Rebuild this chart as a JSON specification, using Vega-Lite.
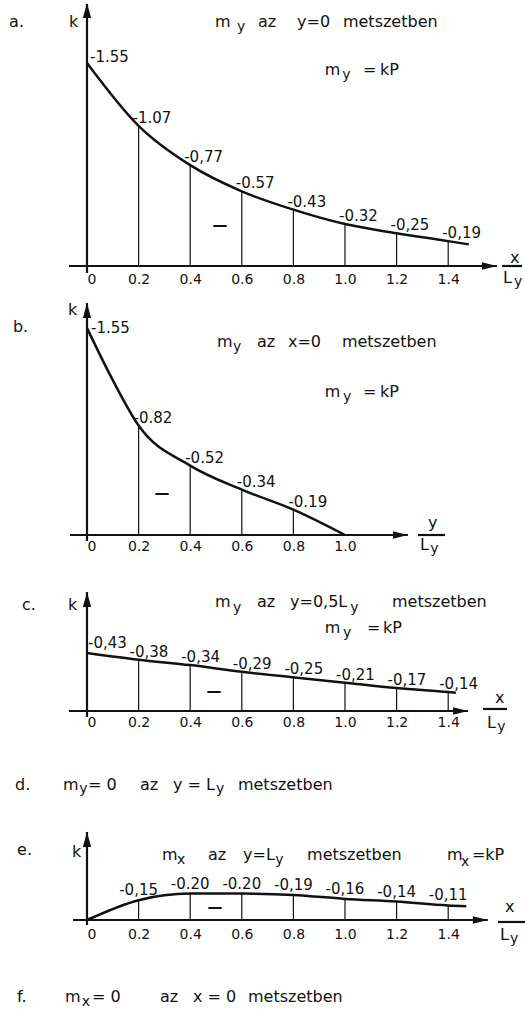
{
  "$schema": "https://vega.github.io/schema/vega-lite/v6.json",
  "padding": 0,
  "spacing": 0,
  "bounds": "flush",
  "background": "white",
  "config": {
    "view": {"stroke": null},
    "font": "DejaVu Sans",
    "text": {"font": "DejaVu Sans", "color": "#111111"},
    "axis": {"labelFont": "DejaVu Sans", "labelColor": "#111111"}
  },
  "datasets": {
    "curveA": [
      {"x": 0, "k": -1.55, "lab": "-1.55"},
      {"x": 0.2, "k": -1.07, "lab": "-1.07"},
      {"x": 0.4, "k": -0.77, "lab": "-0,77"},
      {"x": 0.6, "k": -0.57, "lab": "-0.57"},
      {"x": 0.8, "k": -0.43, "lab": "-0.43"},
      {"x": 1.0, "k": -0.32, "lab": "-0.32"},
      {"x": 1.2, "k": -0.25, "lab": "-0,25"},
      {"x": 1.4, "k": -0.19, "lab": "-0,19"},
      {"x": 1.48, "k": -0.165}
    ],
    "segA": [
      {"x": -0.07, "x2": 1.589, "k": 0, "k2": 0},
      {"x": 0, "x2": 0, "k": 0.053, "k2": -2.0},
      {"x": 1.609, "x2": 1.686, "k": 0, "k2": 0}
    ],
    "arrowA": [
      {"x": 0, "k": -2.008, "dir": "up"},
      {"x": 1.589, "k": 0, "dir": "right"}
    ],
    "annA": [
      {"x": -0.302, "k": -1.824, "t": "a."},
      {"x": -0.07, "k": -1.824, "t": "k"},
      {"x": 0.496, "k": -1.824, "t": "m"},
      {"x": 0.663, "k": -1.824, "t": "az"},
      {"x": 0.814, "k": -1.824, "t": "y=0"},
      {"x": 0.992, "k": -1.824, "t": "metszetben"},
      {"x": 0.922, "k": -1.458, "t": "m"},
      {"x": 1.07, "k": -1.458, "t": "="},
      {"x": 1.136, "k": -1.458, "t": "kP"},
      {"x": 1.64, "k": -0.023, "t": "x"},
      {"x": 1.612, "k": 0.13, "t": "L"}
    ],
    "subA": [
      {"x": 0.581, "k": -1.794, "t": "y"},
      {"x": 0.989, "k": -1.427, "t": "y"},
      {"x": 1.655, "k": 0.153, "t": "y"}
    ],
    "signA": [{"x": 0.5155, "k": -0.313, "t": "—"}],
    "curveB": [
      {"x": 0, "k": -1.55, "lab": "-1.55"},
      {"x": 0.1, "k": -1.16},
      {"x": 0.2, "k": -0.82, "lab": "-0.82"},
      {"x": 0.4, "k": -0.52, "lab": "-0.52"},
      {"x": 0.6, "k": -0.34, "lab": "-0.34"},
      {"x": 0.8, "k": -0.19, "lab": "-0.19"},
      {"x": 1.0, "k": 0}
    ],
    "segB": [
      {"x": -0.066, "x2": 1.244, "k": 0, "k2": 0},
      {"x": 0, "x2": 0, "k": 0.045, "k2": -1.738},
      {"x": 1.283, "x2": 1.388, "k": 0, "k2": 0}
    ],
    "arrowB": [
      {"x": 0, "k": -1.738, "dir": "up"},
      {"x": 1.244, "k": 0, "dir": "right"}
    ],
    "annB": [
      {"x": -0.287, "k": -1.521, "t": "b."},
      {"x": -0.074, "k": -1.648, "t": "k"},
      {"x": 0.504, "k": -1.408, "t": "m"},
      {"x": 0.659, "k": -1.408, "t": "az"},
      {"x": 0.779, "k": -1.408, "t": "x=0"},
      {"x": 0.988, "k": -1.408, "t": "metszetben"},
      {"x": 0.922, "k": -1.034, "t": "m"},
      {"x": 1.07, "k": -1.034, "t": "="},
      {"x": 1.136, "k": -1.034, "t": "kP"},
      {"x": 1.322, "k": -0.052, "t": "y"},
      {"x": 1.291, "k": 0.112, "t": "L"}
    ],
    "subB": [
      {"x": 0.566, "k": -1.378, "t": "y"},
      {"x": 0.992, "k": -1.004, "t": "y"},
      {"x": 1.33, "k": 0.135, "t": "y"}
    ],
    "signB": [{"x": 0.291, "k": -0.315, "t": "—"}],
    "curveC": [
      {"x": 0, "k": -0.43, "lab": "-0,43"},
      {"x": 0.2, "k": -0.38, "lab": "-0,38"},
      {"x": 0.4, "k": -0.34, "lab": "-0,34"},
      {"x": 0.6, "k": -0.29, "lab": "-0,29"},
      {"x": 0.8, "k": -0.25, "lab": "-0,25"},
      {"x": 1.0, "k": -0.21, "lab": "-0,21"},
      {"x": 1.2, "k": -0.17, "lab": "-0,17"},
      {"x": 1.4, "k": -0.14, "lab": "-0,14"},
      {"x": 1.43, "k": -0.135}
    ],
    "segC": [
      {"x": -0.07, "x2": 1.477, "k": 0, "k2": 0},
      {"x": 0, "x2": 0, "k": 0.044, "k2": -0.881},
      {"x": 1.535, "x2": 1.628, "k": -0.015, "k2": -0.015}
    ],
    "arrowC": [
      {"x": 0, "k": -0.881, "dir": "up"},
      {"x": 1.477, "k": 0, "dir": "right"}
    ],
    "annC": [
      {"x": -0.252, "k": -0.748, "t": "c."},
      {"x": -0.074, "k": -0.748, "t": "k"},
      {"x": 0.496, "k": -0.77, "t": "m"},
      {"x": 0.659, "k": -0.77, "t": "az"},
      {"x": 0.787, "k": -0.77, "t": "y=0,5L"},
      {"x": 1.182, "k": -0.77, "t": "metszetben"},
      {"x": 0.922, "k": -0.578, "t": "m"},
      {"x": 1.085, "k": -0.578, "t": "="},
      {"x": 1.147, "k": -0.578, "t": "kP"},
      {"x": 1.581, "k": -0.059, "t": "x"},
      {"x": 1.55, "k": 0.126, "t": "L"},
      {"x": -0.279, "k": 0.585, "t": "d."},
      {"x": -0.093, "k": 0.585, "t": "m"},
      {"x": 0.004, "k": 0.585, "t": "= 0"},
      {"x": 0.205, "k": 0.585, "t": "az"},
      {"x": 0.333, "k": 0.585, "t": "y = L"},
      {"x": 0.585, "k": 0.585, "t": "metszetben"}
    ],
    "subC": [
      {"x": 0.566, "k": -0.733, "t": "y"},
      {"x": 1.02, "k": -0.733, "t": "y"},
      {"x": 0.992, "k": -0.548, "t": "y"},
      {"x": 1.59, "k": 0.148, "t": "y"},
      {"x": -0.03, "k": 0.607, "t": "y"},
      {"x": 0.5, "k": 0.607, "t": "y"}
    ],
    "signC": [{"x": 0.492, "k": -0.148, "t": "—"}],
    "curveE": [
      {"x": 0, "k": 0},
      {"x": 0.2, "k": -0.15, "lab": "-0,15"},
      {"x": 0.4, "k": -0.2, "lab": "-0.20"},
      {"x": 0.6, "k": -0.2, "lab": "-0.20"},
      {"x": 0.8, "k": -0.19, "lab": "-0,19"},
      {"x": 1.0, "k": -0.16, "lab": "-0,16"},
      {"x": 1.2, "k": -0.14, "lab": "-0,14"},
      {"x": 1.4, "k": -0.11, "lab": "-0,11"},
      {"x": 1.47, "k": -0.105}
    ],
    "segE": [
      {"x": -0.054, "x2": 1.554, "k": 0, "k2": 0},
      {"x": 0, "x2": 0, "k": 0.038, "k2": -0.667},
      {"x": 1.593, "x2": 1.698, "k": 0.015, "k2": 0.015}
    ],
    "arrowE": [
      {"x": 0, "k": -0.667, "dir": "up"},
      {"x": 1.554, "k": 0, "dir": "right"}
    ],
    "annE": [
      {"x": -0.271, "k": -0.492, "t": "e."},
      {"x": -0.058, "k": -0.477, "t": "k"},
      {"x": 0.291, "k": -0.4545, "t": "m"},
      {"x": 0.469, "k": -0.4545, "t": "az"},
      {"x": 0.605, "k": -0.4545, "t": "y=L"},
      {"x": 0.853, "k": -0.4545, "t": "metszetben"},
      {"x": 1.395, "k": -0.4545, "t": "m"},
      {"x": 1.492, "k": -0.4545, "t": "=kP"},
      {"x": 1.62, "k": -0.061, "t": "x"},
      {"x": 1.601, "k": 0.152, "t": "L"},
      {"x": -0.271, "k": 0.621, "t": "f."},
      {"x": -0.085, "k": 0.621, "t": "m"},
      {"x": 0.019, "k": 0.621, "t": "= 0"},
      {"x": 0.283, "k": 0.621, "t": "az"},
      {"x": 0.411, "k": 0.621, "t": "x = 0"},
      {"x": 0.624, "k": 0.621, "t": "metszetben"}
    ],
    "subE": [
      {"x": 0.349, "k": -0.424, "t": "x"},
      {"x": 0.73, "k": -0.424, "t": "y"},
      {"x": 1.45, "k": -0.409, "t": "x"},
      {"x": 1.64, "k": 0.174, "t": "y"},
      {"x": -0.02, "k": 0.652, "t": "x"}
    ],
    "signE": [{"x": 0.496, "k": -0.098, "t": "—"}]
  },
  "vconcat": [
    {
      "width": 525,
      "height": 290,
      "layer": [
        {
          "data": {"name": "segA"},
          "mark": {"type": "rule", "strokeWidth": 2.2, "color": "#111111"},
          "encoding": {
            "x": {"field": "x", "type": "quantitative", "scale": {"domain": [-0.3372, 1.6977], "nice": false, "zero": false},
              "axis": {"orient": "bottom", "values": [0, 0.2, 0.4, 0.6, 0.8, 1.0, 1.2, 1.4], "domain": false, "ticks": false, "tickSize": 0, "grid": false, "title": null, "offset": -24, "labelPadding": 6, "labelFontSize": 14, "labelFlush": false, "labelOverlap": false,
                "labelExpr": "datum.value == 0 ? '0' : format(datum.value, '.1f')",
                "labelAlign": {"condition": {"test": "datum.value == 0", "value": "left"}, "value": "center"}}},
            "x2": {"field": "x2"},
            "y": {"field": "k", "type": "quantitative", "scale": {"domain": [0.1832, -2.0305], "nice": false, "zero": false}, "axis": null},
            "y2": {"field": "k2"}
          }
        },
        {
          "data": {"name": "curveA"},
          "transform": [{"filter": "datum.lab != null && datum.x > 0"}],
          "mark": {"type": "rule", "strokeWidth": 1.2, "color": "#111111"},
          "encoding": {"x": {"field": "x", "type": "quantitative"}, "y": {"field": "k", "type": "quantitative"}, "y2": {"datum": 0}}
        },
        {
          "data": {"name": "curveA"},
          "mark": {"type": "line", "interpolate": "monotone", "strokeWidth": 2.5, "color": "#111111"},
          "encoding": {"x": {"field": "x", "type": "quantitative"}, "y": {"field": "k", "type": "quantitative"}}
        },
        {
          "data": {"name": "arrowA"},
          "mark": {"type": "point", "filled": true, "size": 225, "color": "#111111", "opacity": 1, "strokeWidth": 0},
          "encoding": {"x": {"field": "x", "type": "quantitative"}, "y": {"field": "k", "type": "quantitative"},
            "shape": {"field": "dir", "type": "nominal", "scale": {"domain": ["up", "right"], "range": ["M0,0L0.55,2L-0.55,2Z", "M0,0L-2,0.5L-2,-0.5Z"]}, "legend": null}}
        },
        {
          "data": {"name": "curveA"},
          "transform": [{"filter": "datum.lab != null && datum.x == 0"}],
          "mark": {"type": "text", "align": "left", "baseline": "alphabetic", "dx": 3, "dy": -1, "fontSize": 15},
          "encoding": {"x": {"field": "x", "type": "quantitative"}, "y": {"field": "k", "type": "quantitative"}, "text": {"field": "lab"}}
        },
        {
          "data": {"name": "curveA"},
          "transform": [{"filter": "datum.lab != null && datum.x > 0"}],
          "mark": {"type": "text", "align": "left", "baseline": "alphabetic", "dx": -6, "dy": -3, "fontSize": 15},
          "encoding": {"x": {"field": "x", "type": "quantitative"}, "y": {"field": "k", "type": "quantitative"}, "text": {"field": "lab"}}
        },
        {
          "data": {"name": "annA"},
          "mark": {"type": "text", "align": "left", "baseline": "alphabetic", "fontSize": 16},
          "encoding": {"x": {"field": "x", "type": "quantitative"}, "y": {"field": "k", "type": "quantitative"}, "text": {"field": "t"}}
        },
        {
          "data": {"name": "subA"},
          "mark": {"type": "text", "align": "left", "baseline": "alphabetic", "fontSize": 14},
          "encoding": {"x": {"field": "x", "type": "quantitative"}, "y": {"field": "k", "type": "quantitative"}, "text": {"field": "t"}}
        },
        {
          "data": {"name": "signA"},
          "mark": {"type": "text", "align": "center", "baseline": "middle", "fontSize": 15, "fontWeight": "bold"},
          "encoding": {"x": {"field": "x", "type": "quantitative"}, "y": {"field": "k", "type": "quantitative"}, "text": {"field": "t"}}
        }
      ]
    },
    {
      "width": 525,
      "height": 285,
      "layer": [
        {
          "data": {"name": "segB"},
          "mark": {"type": "rule", "strokeWidth": 2.2, "color": "#111111"},
          "encoding": {
            "x": {"field": "x", "type": "quantitative", "scale": {"domain": [-0.3372, 1.6977], "nice": false, "zero": false},
              "axis": {"orient": "bottom", "values": [0, 0.2, 0.4, 0.6, 0.8, 1.0], "domain": false, "ticks": false, "tickSize": 0, "grid": false, "title": null, "offset": -40, "labelPadding": 4, "labelFontSize": 14, "labelFlush": false, "labelOverlap": false,
                "labelExpr": "datum.value == 0 ? '0' : format(datum.value, '.1f')",
                "labelAlign": {"condition": {"test": "datum.value == 0", "value": "left"}, "value": "center"}}},
            "x2": {"field": "x2"},
            "y": {"field": "k", "type": "quantitative", "scale": {"domain": [0.2996, -1.8352], "nice": false, "zero": false}, "axis": null},
            "y2": {"field": "k2"}
          }
        },
        {
          "data": {"name": "curveB"},
          "transform": [{"filter": "datum.lab != null && datum.x > 0"}],
          "mark": {"type": "rule", "strokeWidth": 1.2, "color": "#111111"},
          "encoding": {"x": {"field": "x", "type": "quantitative"}, "y": {"field": "k", "type": "quantitative"}, "y2": {"datum": 0}}
        },
        {
          "data": {"name": "curveB"},
          "mark": {"type": "line", "interpolate": "monotone", "strokeWidth": 2.5, "color": "#111111"},
          "encoding": {"x": {"field": "x", "type": "quantitative"}, "y": {"field": "k", "type": "quantitative"}}
        },
        {
          "data": {"name": "arrowB"},
          "mark": {"type": "point", "filled": true, "size": 225, "color": "#111111", "opacity": 1, "strokeWidth": 0},
          "encoding": {"x": {"field": "x", "type": "quantitative"}, "y": {"field": "k", "type": "quantitative"},
            "shape": {"field": "dir", "type": "nominal", "scale": {"domain": ["up", "right"], "range": ["M0,0L0.55,2L-0.55,2Z", "M0,0L-2,0.5L-2,-0.5Z"]}, "legend": null}}
        },
        {
          "data": {"name": "curveB"},
          "transform": [{"filter": "datum.lab != null && datum.x == 0"}],
          "mark": {"type": "text", "align": "left", "baseline": "alphabetic", "dx": 4, "dy": 5, "fontSize": 15},
          "encoding": {"x": {"field": "x", "type": "quantitative"}, "y": {"field": "k", "type": "quantitative"}, "text": {"field": "lab"}}
        },
        {
          "data": {"name": "curveB"},
          "transform": [{"filter": "datum.lab != null && datum.x > 0"}],
          "mark": {"type": "text", "align": "left", "baseline": "alphabetic", "dx": -5, "dy": -3, "fontSize": 15},
          "encoding": {"x": {"field": "x", "type": "quantitative"}, "y": {"field": "k", "type": "quantitative"}, "text": {"field": "lab"}}
        },
        {
          "data": {"name": "annB"},
          "mark": {"type": "text", "align": "left", "baseline": "alphabetic", "fontSize": 16},
          "encoding": {"x": {"field": "x", "type": "quantitative"}, "y": {"field": "k", "type": "quantitative"}, "text": {"field": "t"}}
        },
        {
          "data": {"name": "subB"},
          "mark": {"type": "text", "align": "left", "baseline": "alphabetic", "fontSize": 14},
          "encoding": {"x": {"field": "x", "type": "quantitative"}, "y": {"field": "k", "type": "quantitative"}, "text": {"field": "t"}}
        },
        {
          "data": {"name": "signB"},
          "mark": {"type": "text", "align": "center", "baseline": "middle", "fontSize": 15, "fontWeight": "bold"},
          "encoding": {"x": {"field": "x", "type": "quantitative"}, "y": {"field": "k", "type": "quantitative"}, "text": {"field": "t"}}
        }
      ]
    },
    {
      "width": 525,
      "height": 225,
      "layer": [
        {
          "data": {"name": "segC"},
          "mark": {"type": "rule", "strokeWidth": 2.2, "color": "#111111"},
          "encoding": {
            "x": {"field": "x", "type": "quantitative", "scale": {"domain": [-0.3372, 1.6977], "nice": false, "zero": false},
              "axis": {"orient": "bottom", "values": [0, 0.2, 0.4, 0.6, 0.8, 1.0, 1.2, 1.4], "domain": false, "ticks": false, "tickSize": 0, "grid": false, "title": null, "offset": -89, "labelPadding": 4, "labelFontSize": 14, "labelFlush": false, "labelOverlap": false,
                "labelExpr": "datum.value == 0 ? '0' : format(datum.value, '.1f')",
                "labelAlign": {"condition": {"test": "datum.value == 0", "value": "left"}, "value": "center"}}},
            "x2": {"field": "x2"},
            "y": {"field": "k", "type": "quantitative", "scale": {"domain": [0.6593, -1.0074], "nice": false, "zero": false}, "axis": null},
            "y2": {"field": "k2"}
          }
        },
        {
          "data": {"name": "curveC"},
          "transform": [{"filter": "datum.lab != null && datum.x > 0"}],
          "mark": {"type": "rule", "strokeWidth": 1.2, "color": "#111111"},
          "encoding": {"x": {"field": "x", "type": "quantitative"}, "y": {"field": "k", "type": "quantitative"}, "y2": {"datum": 0}}
        },
        {
          "data": {"name": "curveC"},
          "mark": {"type": "line", "interpolate": "monotone", "strokeWidth": 2.5, "color": "#111111"},
          "encoding": {"x": {"field": "x", "type": "quantitative"}, "y": {"field": "k", "type": "quantitative"}}
        },
        {
          "data": {"name": "arrowC"},
          "mark": {"type": "point", "filled": true, "size": 225, "color": "#111111", "opacity": 1, "strokeWidth": 0},
          "encoding": {"x": {"field": "x", "type": "quantitative"}, "y": {"field": "k", "type": "quantitative"},
            "shape": {"field": "dir", "type": "nominal", "scale": {"domain": ["up", "right"], "range": ["M0,0L0.55,2L-0.55,2Z", "M0,0L-2,0.5L-2,-0.5Z"]}, "legend": null}}
        },
        {
          "data": {"name": "curveC"},
          "transform": [{"filter": "datum.lab != null && datum.x == 0"}],
          "mark": {"type": "text", "align": "left", "baseline": "alphabetic", "dx": 1, "dy": -5, "fontSize": 15},
          "encoding": {"x": {"field": "x", "type": "quantitative"}, "y": {"field": "k", "type": "quantitative"}, "text": {"field": "lab"}}
        },
        {
          "data": {"name": "curveC"},
          "transform": [{"filter": "datum.lab != null && datum.x > 0"}],
          "mark": {"type": "text", "align": "left", "baseline": "alphabetic", "dx": -9, "dy": -3, "fontSize": 15},
          "encoding": {"x": {"field": "x", "type": "quantitative"}, "y": {"field": "k", "type": "quantitative"}, "text": {"field": "lab"}}
        },
        {
          "data": {"name": "annC"},
          "mark": {"type": "text", "align": "left", "baseline": "alphabetic", "fontSize": 16},
          "encoding": {"x": {"field": "x", "type": "quantitative"}, "y": {"field": "k", "type": "quantitative"}, "text": {"field": "t"}}
        },
        {
          "data": {"name": "subC"},
          "mark": {"type": "text", "align": "left", "baseline": "alphabetic", "fontSize": 14},
          "encoding": {"x": {"field": "x", "type": "quantitative"}, "y": {"field": "k", "type": "quantitative"}, "text": {"field": "t"}}
        },
        {
          "data": {"name": "signC"},
          "mark": {"type": "text", "align": "center", "baseline": "middle", "fontSize": 15, "fontWeight": "bold"},
          "encoding": {"x": {"field": "x", "type": "quantitative"}, "y": {"field": "k", "type": "quantitative"}, "text": {"field": "t"}}
        }
      ]
    },
    {
      "width": 525,
      "height": 210,
      "layer": [
        {
          "data": {"name": "segE"},
          "mark": {"type": "rule", "strokeWidth": 2.2, "color": "#111111"},
          "encoding": {
            "x": {"field": "x", "type": "quantitative", "scale": {"domain": [-0.3372, 1.6977], "nice": false, "zero": false},
              "axis": {"orient": "bottom", "values": [0, 0.2, 0.4, 0.6, 0.8, 1.0, 1.2, 1.4], "domain": false, "ticks": false, "tickSize": 0, "grid": false, "title": null, "offset": -90, "labelPadding": 7, "labelFontSize": 14, "labelFlush": false, "labelOverlap": false,
                "labelExpr": "datum.value == 0 ? '0' : format(datum.value, '.1f')",
                "labelAlign": {"condition": {"test": "datum.value == 0", "value": "left"}, "value": "center"}}},
            "x2": {"field": "x2"},
            "y": {"field": "k", "type": "quantitative", "scale": {"domain": [0.6818, -0.9091], "nice": false, "zero": false}, "axis": null},
            "y2": {"field": "k2"}
          }
        },
        {
          "data": {"name": "curveE"},
          "transform": [{"filter": "datum.lab != null && datum.x > 0"}],
          "mark": {"type": "rule", "strokeWidth": 1.2, "color": "#111111"},
          "encoding": {"x": {"field": "x", "type": "quantitative"}, "y": {"field": "k", "type": "quantitative"}, "y2": {"datum": 0}}
        },
        {
          "data": {"name": "curveE"},
          "mark": {"type": "line", "interpolate": "monotone", "strokeWidth": 2.5, "color": "#111111"},
          "encoding": {"x": {"field": "x", "type": "quantitative"}, "y": {"field": "k", "type": "quantitative"}}
        },
        {
          "data": {"name": "arrowE"},
          "mark": {"type": "point", "filled": true, "size": 225, "color": "#111111", "opacity": 1, "strokeWidth": 0},
          "encoding": {"x": {"field": "x", "type": "quantitative"}, "y": {"field": "k", "type": "quantitative"},
            "shape": {"field": "dir", "type": "nominal", "scale": {"domain": ["up", "right"], "range": ["M0,0L0.55,2L-0.55,2Z", "M0,0L-2,0.5L-2,-0.5Z"]}, "legend": null}}
        },
        {
          "data": {"name": "curveE"},
          "transform": [{"filter": "datum.lab != null"}],
          "mark": {"type": "text", "align": "center", "baseline": "alphabetic", "dx": 0, "dy": -5, "fontSize": 15},
          "encoding": {"x": {"field": "x", "type": "quantitative"}, "y": {"field": "k", "type": "quantitative"}, "text": {"field": "lab"}}
        },
        {
          "data": {"name": "annE"},
          "mark": {"type": "text", "align": "left", "baseline": "alphabetic", "fontSize": 16},
          "encoding": {"x": {"field": "x", "type": "quantitative"}, "y": {"field": "k", "type": "quantitative"}, "text": {"field": "t"}}
        },
        {
          "data": {"name": "subE"},
          "mark": {"type": "text", "align": "left", "baseline": "alphabetic", "fontSize": 14},
          "encoding": {"x": {"field": "x", "type": "quantitative"}, "y": {"field": "k", "type": "quantitative"}, "text": {"field": "t"}}
        },
        {
          "data": {"name": "signE"},
          "mark": {"type": "text", "align": "center", "baseline": "middle", "fontSize": 15, "fontWeight": "bold"},
          "encoding": {"x": {"field": "x", "type": "quantitative"}, "y": {"field": "k", "type": "quantitative"}, "text": {"field": "t"}}
        }
      ]
    }
  ]
}
